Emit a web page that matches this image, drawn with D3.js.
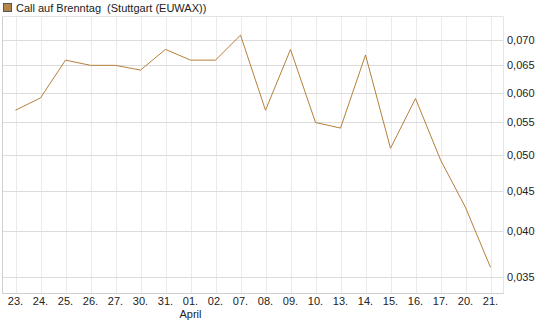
<!DOCTYPE html>
<html><head><meta charset="utf-8">
<script src="https://cdn.jsdelivr.net/npm/d3@7"></script>
<style>body{margin:0;background:#fff;}svg{display:block;font-family:"Liberation Sans",Arial,sans-serif;}</style>
</head><body><svg id="c" width="545" height="327"></svg>
<script>
const categories = ["23.","24.","25.","26.","27.","30.","31.","01.","02.","07.","08.","09.","10.","13.","14.","15.","16.","17.","20.","21."];
const values = [0.0570,0.0591,0.0660,0.0650,0.0650,0.0641,0.0681,0.0660,0.0660,0.0710,0.0570,0.0681,0.0550,0.0541,0.0670,0.0510,0.0590,0.0493,0.0429,0.0360];
const yTicks = [0.035,0.040,0.045,0.050,0.055,0.060,0.065,0.070];
const title = "Call auf Brenntag  (Stuttgart (EUWAX))";
const monthLabel = {"01.":"April"};

const svg = d3.select("#c");
const L = 2.5, R = 503.5, T = 16.5, B = 293.5;
const x = d3.scalePoint().domain(categories).range([15.5, 490.5]);
const y = d3.scaleLog().domain([0.035, 0.070]).range([277, 40]);

// vertical grid
svg.append("g").selectAll("line").data(categories).join("line")
  .attr("x1", d => Math.round(x(d)) + 0.5).attr("x2", d => Math.round(x(d)) + 0.5)
  .attr("y1", T).attr("y2", B).attr("stroke", "#ebebeb");
// horizontal grid
svg.append("g").selectAll("line").data(yTicks).join("line")
  .attr("x1", L).attr("x2", R)
  .attr("y1", d => Math.round(y(d)) + 0.5).attr("y2", d => Math.round(y(d)) + 0.5)
  .attr("stroke", "#dcdcdc");
// frame
svg.append("path").attr("d", `M${L},${B}H${R}V${T}H${L}`).attr("fill", "none").attr("stroke", "#e4e4e4");
svg.append("path").attr("d", `M${L},${T}V${B}H${R}`).attr("fill", "none").attr("stroke", "#cfcfcf");

// y labels
const fmt = d => d3.format(".3f")(d).replace(".", ",");
svg.append("g").selectAll("text").data(yTicks).join("text")
  .attr("x", 507).attr("y", d => y(d) + 4)
  .attr("font-size", 11).attr("fill", "#222").text(fmt);

// x labels
svg.append("g").selectAll("text").data(categories).join("text")
  .attr("x", d => x(d)).attr("y", 305).attr("text-anchor", "middle")
  .attr("font-size", 11).attr("fill", "#222").text(d => d);
svg.append("g").selectAll("text").data(categories.filter(c => monthLabel[c])).join("text")
  .attr("x", d => x(d)).attr("y", 318).attr("text-anchor", "middle")
  .attr("font-size", 11).attr("fill", "#222").text(d => monthLabel[d]);

// line
svg.append("path").datum(values)
  .attr("d", d3.line().x((d, i) => x(categories[i])).y(d => y(d)))
  .attr("fill", "none").attr("stroke", "#b5803a").attr("stroke-width", 1);

// legend
svg.append("rect").attr("x", 3.5).attr("y", 3.5).attr("width", 8).attr("height", 8)
  .attr("fill", "#b5854a").attr("stroke", "#555").attr("stroke-width", 1);
svg.append("text").attr("x", 16).attr("y", 12).attr("font-size", 11).attr("fill", "#222")
  .style("white-space", "pre").text(title);
</script></body></html>
